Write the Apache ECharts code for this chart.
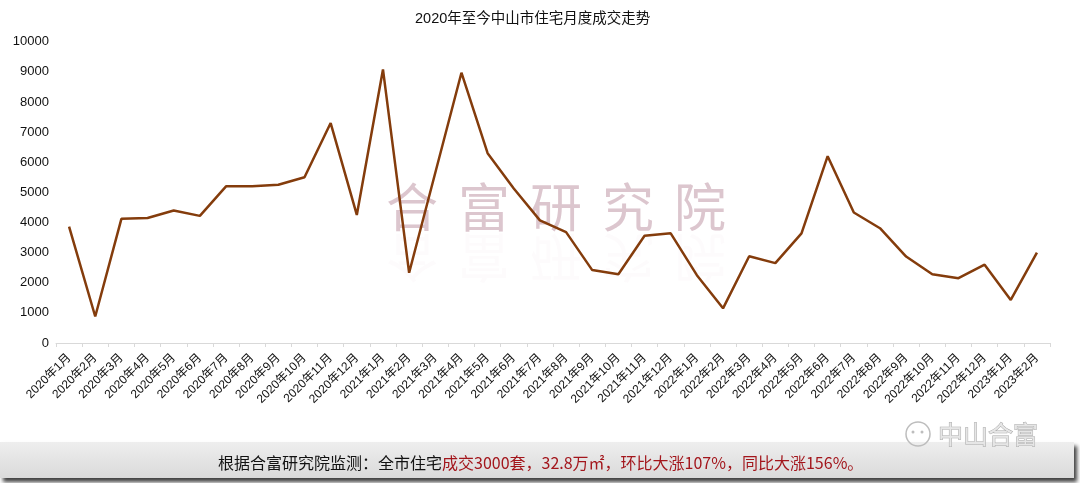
<!DOCTYPE html>
<html>
<head>
<meta charset="utf-8">
<title>2020年至今中山市住宅月度成交走势</title>
<script src="https://cdn.jsdelivr.net/npm/echarts@6/dist/echarts.min.js"></script>
<style>
  html, body { margin: 0; padding: 0; background: #fff; }
  #chart { width: 1080px; height: 483px; }
</style>
</head>
<body>
<div id="chart"></div>
<script>
var months = [
  '2020年1月', '2020年2月', '2020年3月', '2020年4月', '2020年5月', '2020年6月',
  '2020年7月', '2020年8月', '2020年9月', '2020年10月', '2020年11月', '2020年12月',
  '2021年1月', '2021年2月', '2021年3月', '2021年4月', '2021年5月', '2021年6月',
  '2021年7月', '2021年8月', '2021年9月', '2021年10月', '2021年11月', '2021年12月',
  '2022年1月', '2022年2月', '2022年3月', '2022年4月', '2022年5月', '2022年6月',
  '2022年7月', '2022年8月', '2022年9月', '2022年10月', '2022年11月', '2022年12月',
  '2023年1月', '2023年2月'
];
// 住宅成交套数（从图上读取，估值）
var deals = [
  3860, 880, 4120, 4150, 4400, 4220, 5200, 5200, 5250, 5500, 7300, 4250,
  9080, 2330, 5650, 8970, 6300, 5130, 4070, 3680, 2420, 2280, 3560, 3640,
  2250, 1150, 2880, 2650, 3640, 6200, 4330, 3810, 2870, 2280, 2150, 2600,
  1430, 3000
];
var yTicks = [0, 1000, 2000, 3000, 4000, 5000, 6000, 7000, 8000, 9000, 10000];
var watermarkChars = ['合', '富', '研', '究', '院'];
var noteBlack = '根据合富研究院监测：全市住宅';
var noteRed = '成交3000套，32.8万㎡，环比大涨107%，同比大涨156%。';

var cjk = '"Liberation Sans", Arial, "Noto Sans CJK SC", sans-serif';

// 水印
var graphics = [];
watermarkChars.forEach(function (ch, i) {
  graphics.push({
    type: 'text', x: 386 + i * 72, y: 181, z: 0, silent: true,
    style: { text: ch, font: '52px "Noto Sans CJK SC"', fill: '#d6bcc6', opacity: 0.85 }
  });
  graphics.push({
    type: 'text', x: 386 + i * 72, y: 284, scaleY: -1, z: 0, silent: true,
    style: { text: ch, font: '52px "Noto Sans CJK SC"', fill: '#d6bcc6', opacity: 0.06 }
  });
});

// 底部说明条
graphics.push({
  type: 'rect', z: 1, silent: true,
  shape: { x: 0, y: 442, width: 1074, height: 36 },
  style: {
    fill: new echarts.graphic.LinearGradient(0, 0, 0, 1, [
      { offset: 0, color: '#eeeeee' },
      { offset: 1, color: '#dadada' }
    ]),
    shadowColor: 'rgba(0,0,0,0.75)', shadowBlur: 4, shadowOffsetX: 3, shadowOffsetY: 4
  }
});
graphics.push({
  type: 'text', x: 218, y: 463, z: 2, silent: true,
  style: {
    text: '{a|' + noteBlack + '}{b|' + noteRed + '}',
    verticalAlign: 'middle',
    rich: {
      a: { font: '16px "Noto Sans CJK SC"', fill: '#111' },
      b: { font: '16px "Noto Sans CJK SC"', fill: '#a3161c' }
    }
  }
});

// 公众号标识
graphics.push({
  type: 'circle', z: 2, silent: true,
  shape: { cx: 918, cy: 434, r: 12 },
  style: { fill: 'none', stroke: '#bdbdbd', lineWidth: 1.5 }
});
graphics.push({
  type: 'circle', z: 2, silent: true, shape: { cx: 913, cy: 432, r: 1.5 },
  style: { fill: '#bdbdbd' }
});
graphics.push({
  type: 'circle', z: 2, silent: true, shape: { cx: 922, cy: 432, r: 1.5 },
  style: { fill: '#bdbdbd' }
});
graphics.push({
  type: 'text', x: 938, y: 434, z: 2, silent: true,
  style: {
    text: '中山合富', font: '25px "Noto Sans CJK SC"', verticalAlign: 'middle',
    fill: '#e6e6e6', stroke: '#a8a8a8', lineWidth: 1
  }
});

var option = {
  backgroundColor: '#ffffff',
  animation: false,
  title: {
    text: '2020年至今中山市住宅月度成交走势',
    left: 410,
    top: 7,
    textStyle: {
      color: '#111',
      fontSize: 14.5,
      fontWeight: 'normal',
      fontFamily: cjk
    }
  },
  grid: {
    left: 56,
    right: 30,
    top: 41.7,
    bottom: 140
  },
  xAxis: {
    type: 'category',
    data: months,
    boundaryGap: true,
    axisLine: { lineStyle: { color: '#d9d9d9' } },
    axisTick: { show: true, length: 4, lineStyle: { color: '#d9d9d9' } },
    axisLabel: {
      interval: 0,
      rotate: 45,
      margin: 13,
      color: '#111',
      fontSize: 12,
      fontFamily: cjk
    }
  },
  yAxis: {
    type: 'value',
    min: yTicks[0],
    max: yTicks[yTicks.length - 1],
    interval: 1000,
    axisLine: { show: false },
    axisTick: { show: false },
    splitLine: { show: false },
    axisLabel: {
      margin: 7,
      color: '#111',
      fontSize: 13,
      fontFamily: cjk,
      formatter: function (v) { return String(v); }
    }
  },
  series: [
    {
      name: '住宅成交',
      type: 'line',
      data: deals,
      z: 3,
      showSymbol: false,
      symbol: 'none',
      lineStyle: {
        color: '#843c0c',
        width: 2.5
      }
    }
  ],
  graphic: graphics
};

var chart = echarts.init(document.getElementById('chart'));
chart.setOption(option);
</script>
</body>
</html>
